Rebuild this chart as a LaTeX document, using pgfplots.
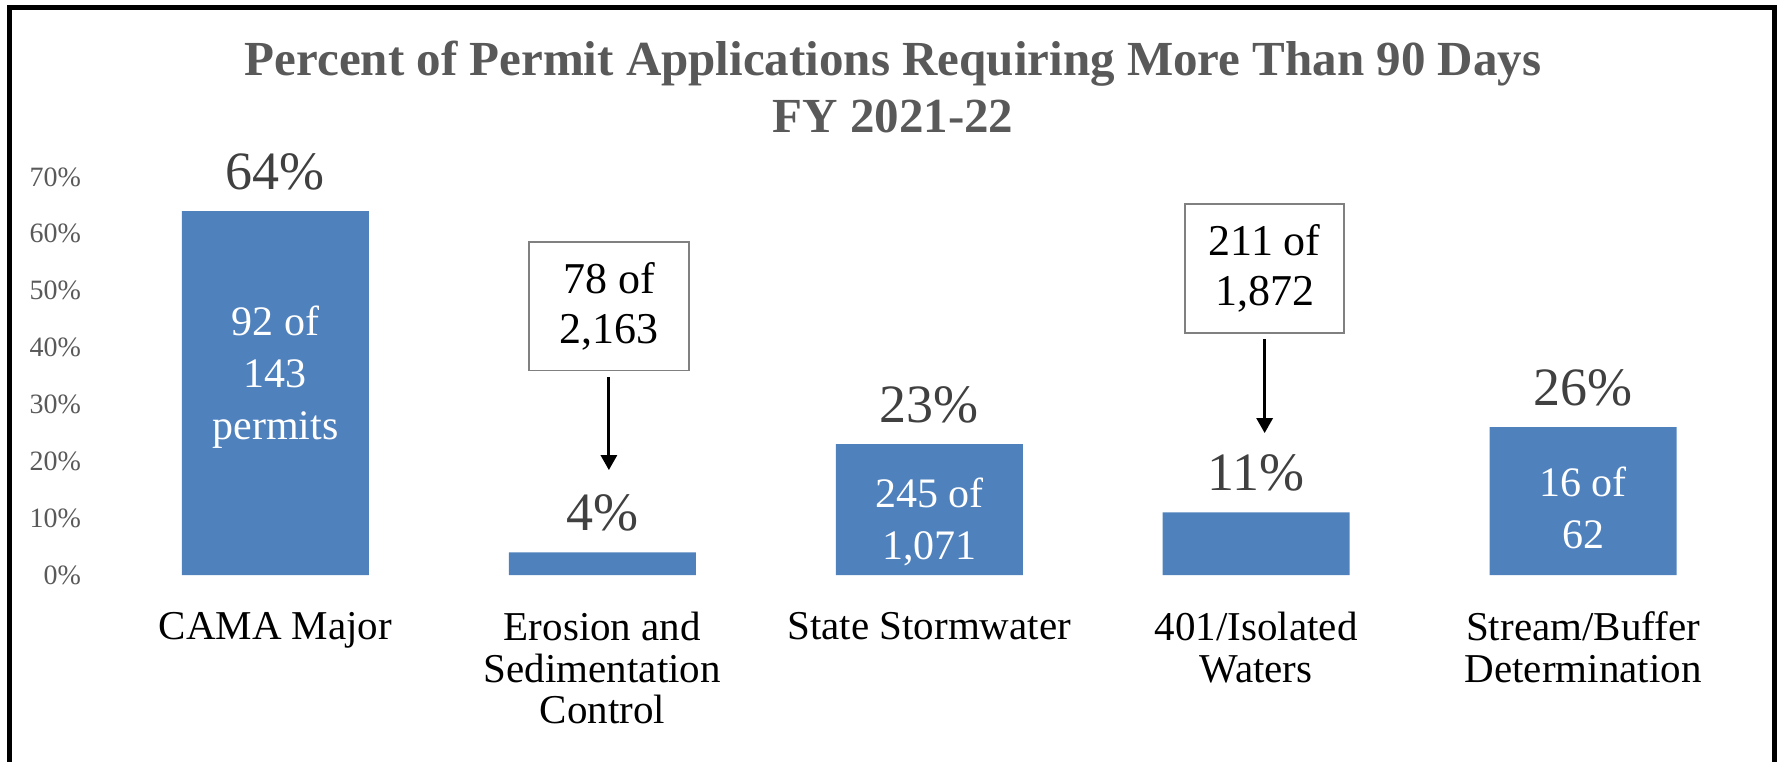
\documentclass[border=0pt]{standalone}
\usepackage{fontspec}
\setmainfont{Liberation Serif}
\usepackage{pgfplots}
\pgfplotsset{compat=1.18}
\usetikzlibrary{arrows.meta}
\definecolor{barblue}{HTML}{4F81BD}
\definecolor{titlegray}{HTML}{595959}
\definecolor{labgray}{HTML}{404040}
\begin{document}
\begin{tikzpicture}
\path[use as bounding box] (0,0) rectangle (890.5pt,380.5pt);
\draw[line width=2.25pt] (4.75pt,-3pt) -- (4.75pt,376.75pt) -- (887.25pt,376.75pt) -- (887.25pt,-3pt);
\node[anchor=base, text=titlegray, font=\fontsize{24.5}{28}\selectfont\bfseries] at (446.5pt,342.5pt) {Percent of Permit Applications Requiring More Than 90 Days};
\node[anchor=base, text=titlegray, font=\fontsize{24.5}{28}\selectfont\bfseries] at (446.5pt,314pt) {FY 2021-22};
\begin{axis}[
  at={(56pt,93pt)}, anchor=south west,
  scale only axis, width=817.25pt, height=199pt,
  xmin=-0.5, xmax=4.5, ymin=0, ymax=0.7,
  axis line style={draw=none}, tick style={draw=none},
  xtick={0,1,2,3,4},
  xticklabels={CAMA Major, Erosion and\\Sedimentation\\Control, State Stormwater, 401/Isolated\\Waters, Stream/Buffer\\Determination},
  xticklabel style={font=\fontsize{20.5}{20.8}\selectfont, align=center, anchor=north, yshift=-15pt},
  ytick={0,0.1,0.2,0.3,0.4,0.5,0.6,0.7},
  yticklabels={0\%,10\%,20\%,30\%,40\%,50\%,60\%,70\%},
  yticklabel style={font=\fontsize{14}{16}\selectfont, text=titlegray, xshift=-12pt},
  /pgf/number format/assume math mode=true,
  clip=false,
]
\addplot[ybar, bar width=93.5pt, fill=barblue, draw=none,
  point meta=explicit symbolic, nodes near coords,
  every node near coord/.append style={anchor=base, yshift=11pt, font=\fontsize{27}{30}\selectfont, text=labgray}]
  coordinates {(0,0.64) [64\%] (1,0.04) [4\%] (2,0.23) [23\%] (3,0.11) [11\%] (4,0.26) [26\%]};
\node[align=center, text=white, font=\fontsize{21}{25.8}\selectfont] at (axis cs:0,0.348) {92 of\\143\\permits};
\node[align=center, text=white, font=\fontsize{21}{25.8}\selectfont] at (axis cs:2,0.093) {245 of\\1,071};
\node[align=center, text=white, font=\fontsize{21}{25.8}\selectfont] at (axis cs:4,0.118) {16 of\\62};
\node[draw=gray, line width=0.75pt, minimum width=80pt, minimum height=64pt, inner sep=0pt, align=center, font=\fontsize{22}{25}\selectfont] at (axis cs:1.02,0.4727) {78 of\\2,163};
\node[draw=gray, line width=0.75pt, minimum width=79.5pt, minimum height=64.5pt, inner sep=0pt, align=center, font=\fontsize{22}{25}\selectfont] at (axis cs:3.026,0.5387) {211 of\\1,872};
\draw[line width=1.5pt, -{Triangle[width=8pt,length=7.5pt]}] (axis cs:1.02,0.348) -- (axis cs:1.02,0.1845);
\draw[line width=1.5pt, -{Triangle[width=8pt,length=7.5pt]}] (axis cs:3.026,0.415) -- (axis cs:3.026,0.2496);
\end{axis}
\end{tikzpicture}
\end{document}
